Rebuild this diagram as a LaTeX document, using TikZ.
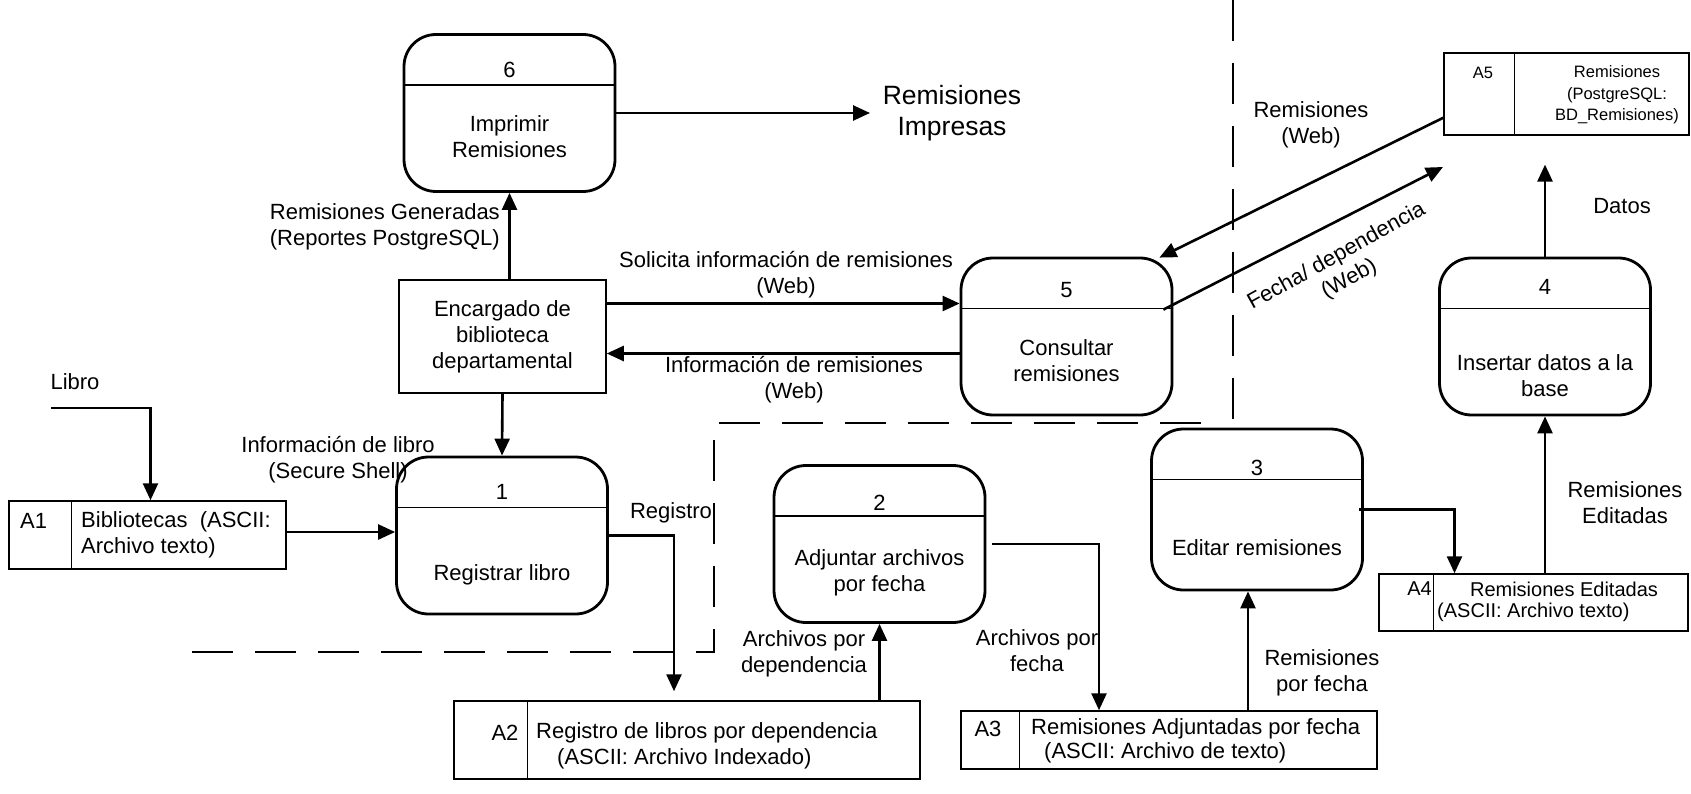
\documentclass[tikz,border=0pt]{standalone}
\usepackage{fontspec}
\setmainfont{Liberation Sans}
\usetikzlibrary{arrows.meta,calc}

\begin{document}
\begin{tikzpicture}[x=1pt,y=-1pt,
  txt/.style={font=\fontsize{22}{26}\selectfont, inner sep=0pt, align=center},
  proc/.style={draw, line width=2.8pt, rounded corners=32pt, minimum width=211pt, minimum height=157pt, inner sep=0pt},
  store/.style={draw, line width=1.5pt, inner sep=0pt},
  ent/.style={draw, line width=1.5pt, inner sep=0pt, font=\fontsize{22}{26}\selectfont, align=center},
  div/.style={line width=1.5pt},
  flow/.style={line width=2.6pt, -{Triangle[length=17pt,width=15pt]}},
  bound/.style={line width=2.6pt, dash pattern=on 41pt off 22pt}
]
\useasboundingbox (0,0) rectangle (1691,794);

% processes
\node[proc] (p6) at (509.5,113) {};
\node[proc] (p5) at (1066.5,336.5) {};
\node[proc] (p4) at (1545,336.5) {};
\node[proc] (p1) at (502,535.5) {};
\node[proc] (p2) at (879.5,544) {};
\node[proc, minimum height=161pt] (p3) at (1257,509.5) {};
\foreach \p in {p6,p5,p4,p1,p2,p3}
  \draw[div] ([yshift=-52pt]\p.north west) -- ([yshift=-52pt]\p.north east);

\node[txt] (n6) at (509.5,70) {6};
\node[txt] (t6) at (509.5,137) {Imprimir\\Remisiones};
\node[txt] (n5) at (1066.5,290) {5};
\node[txt] (t5) at (1066.5,361) {Consultar\\remisiones};
\node[txt] (n4) at (1545,287) {4};
\node[txt] (t4) at (1545,376) {Insertar datos a la\\base};
\node[txt] (n1) at (502,492) {1};
\node[txt] (t1) at (502,575) {Registrar libro};
\node[txt] (n2) at (879.5,503) {2};
\node[txt] (t2) at (879.5,573) {Adjuntar archivos\\por fecha};
\node[txt] (n3) at (1257,468) {3};
\node[txt] (t3) at (1257,548) {Editar remisiones};

% external entity
\node[ent, minimum width=207pt, minimum height=113pt] (enc) at (502.5,336.5)
  {Encargado de\\biblioteca\\departamental};

% data stores
\node[store, minimum width=277pt, minimum height=68pt] (a1) at (147.5,535) {};
\node[store, minimum width=466pt, minimum height=78pt] (a2) at (687,740) {};
\node[store, minimum width=416pt, minimum height=58pt] (a3) at (1169,740) {};
\node[store, minimum width=309pt, minimum height=57pt] (a4) at (1533.5,602.5) {};
\node[store, minimum width=245pt, minimum height=82pt] (a5) at (1566.5,94) {};
\draw[div] ([xshift=63pt]a1.north west) -- ([xshift=63pt]a1.south west);
\draw[div] ([xshift=74pt]a2.north west) -- ([xshift=74pt]a2.south west);
\draw[div] ([xshift=59pt]a3.north west) -- ([xshift=59pt]a3.south west);
\draw[div] ([xshift=55pt]a4.north west) -- ([xshift=55pt]a4.south west);
\draw[div] ([xshift=71pt]a5.north west) -- ([xshift=71pt]a5.south west);

\node[txt, anchor=west] (a1id) at (20,521) {A1};
\node[txt, anchor=west, align=left] (a1t) at (81,535) {Bibliotecas\ \ (ASCII:\\Archivo texto)};
\node[txt] (a2id) at (505,733) {A2};
\node[txt, anchor=west] (a2t1) at (536,733) {Registro de libros por dependencia};
\node[txt, anchor=west] (a2t2) at (557,759) {(ASCII: Archivo Indexado)};
\node[txt] (a3id) at (988,729) {A3};
\node[txt, anchor=west] (a3t1) at (1031,729) {Remisiones Adjuntadas por fecha};
\node[txt, anchor=west] (a3t2) at (1044,753) {(ASCII: Archivo de texto)};
\node[txt, font=\fontsize{20}{24}\selectfont, anchor=east] (a4id) at (1432,589) {A4};
\node[txt, font=\fontsize{20}{24}\selectfont] (a4t1) at (1564,589) {Remisiones Editadas};
\node[txt, font=\fontsize{20}{24}\selectfont, anchor=west] (a4t2) at (1437,612) {(ASCII: Archivo texto)};
\node[txt, font=\fontsize{16.5}{21.5}\selectfont] (a5id) at (1483,73) {A5};
\node[txt, font=\fontsize{16.5}{21.5}\selectfont] (a5t) at (1617,95) {Remisiones\\(PostgreSQL:\\BD\_Remisiones)};

% flows
\coordinate (imp) at (870,113);
\draw[flow] (p6.east) -- (imp);
\node[txt, font=\fontsize{26.5}{31}\selectfont] (impl) at (952,113) {Remisiones\\Impresas};

\draw[flow] (enc.north -| p6.south) -- (p6.south);
\node[txt, anchor=east] (l62) at (500,227) {Remisiones Generadas\\(Reportes PostgreSQL)};

\draw[flow] ([yshift=33pt]enc.east) -- ([yshift=33pt]p5.west);
\node[txt] (lsol) at (786,275) {Solicita información de remisiones\\(Web)};
\draw[flow] ([yshift=-17pt]p5.west) -- ([yshift=-17pt]enc.east);
\node[txt] (linf) at (794,380) {Información de remisiones\\(Web)};

\draw[flow] (enc.south) -- (p1.north);

\coordinate (libro) at (51,408);
\draw[flow] (libro) -| ([xshift=3pt]a1.north);
\node[txt] (llibro) at (75,382) {Libro};

\draw[flow] (a1.east |- 0,532) -- (p1.west |- 0,532);
\node[txt] (linfl) at (338,460) {Información de libro\\(Secure Shell)};

\draw[flow] (p1.east) -| ([xshift=-13pt,yshift=9pt]a2.north);
\node[txt] (lreg) at (671,513) {Registro};

\draw[flow] (a2.north -| p2.south) -- (p2.south);
\node[txt] (lad) at (804,654) {Archivos por\\dependencia};

\draw[flow] ([xshift=6pt]p2.east) -| ([xshift=-70pt]a3.north);
\node[txt] (laf) at (1037,651) {Archivos por\\fecha};

\draw[flow] ($(a3.north)+(79,0)$) -- ($(p3.south)+(-9,0)$);
\node[txt] (lrf) at (1322,673) {Remisiones\\por fecha};

\draw[flow] ([xshift=-5pt]p3.east) -| ($(a4.north)+(-79,0)$);

\draw[flow] (a4.north -| p4.south) -- (p4.south);
\node[txt] (lre) at (1625,503) {Remisiones\\Editadas};

\coordinate (dtip) at ($(p4.north)+(0,-92)$);
\draw[flow] (p4.north) -- (dtip);
\node[txt] (ldat) at (1622,206) {Datos};

\draw[flow] ($(a5.south west)+(0,-18)$) -- ($(p5.north east)+(-14,1)$);
\node[txt] (lrw) at (1311,125) {Remisiones\\(Web)};

\coordinate (ftip) at (1443,167);
\draw[flow] ($(p5.north east)+(-10,53)$) -- (ftip);
\node[txt, rotate=29] (lfd) at (1343,268) {Fecha/ dependencia\\(Web)};

% boundaries
\draw[bound] (192,652) -- (714,652) -- (714,423) -- (1212,423);
\draw[bound] (1233,0) -- (1233,423);
\end{tikzpicture}
\end{document}
